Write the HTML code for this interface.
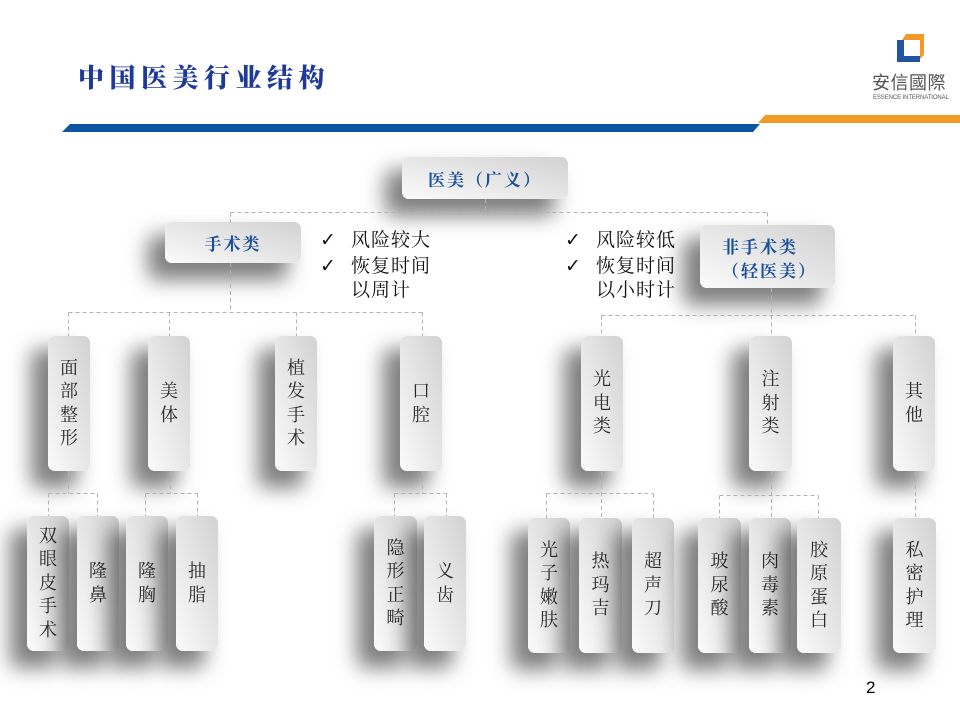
<!DOCTYPE html>
<html><head><meta charset="utf-8">
<style>
html,body{margin:0;padding:0;}
body{width:960px;height:720px;position:relative;overflow:hidden;background:#fff;font-family:"Liberation Serif","Noto Serif CJK SC",serif;}
.b{position:absolute;border-radius:7px;background:linear-gradient(to bottom left,#d2d2d2,#fbfbfb);box-shadow:-15px 15px 20px 2px rgba(0,0,0,.5);}
.v{display:flex;align-items:center;justify-content:center;text-align:center;font-size:18px;line-height:23.5px;color:#2a2a2a;}
.h{display:flex;align-items:center;justify-content:center;font-weight:700;color:#1a4f9c;font-size:17px;letter-spacing:2px;}
.t{position:absolute;font-size:19px;color:#111;line-height:24.5px;letter-spacing:1px;white-space:nowrap;}
.ck{font-family:"DejaVu Sans",sans-serif;font-size:19px;font-weight:700;display:inline-block;width:31px;}
svg{position:absolute;left:0;top:0;}
</style></head><body>

<!-- header -->
<div style="position:absolute;left:78px;top:58px;font-size:26px;font-weight:900;color:#1e3a96;letter-spacing:5.5px;font-family:'Liberation Serif','Noto Serif CJK SC',serif;white-space:nowrap;">中国医美行业结构</div>
<svg width="960" height="140" style="z-index:0">
  <polygon points="70,124 760,124 753,132 62,132" fill="#0f54a3"/>
  <polygon points="765,115 960,115 960,123 758,123" fill="#f39a25"/>
  <!-- logo -->
  <polygon points="897,40 904,40 904,56 920,56 920,62 897,62" fill="#2553a0"/>
  <polygon points="906,34 924,34 924,55 920,59 920,40 902,40" fill="#f39a25"/>
</svg>
<div style="position:absolute;left:872px;top:74px;font-size:18px;line-height:18px;color:#555;font-family:'Liberation Sans','Noto Sans CJK TC',sans-serif;letter-spacing:0.5px;white-space:nowrap;">安信國際</div>
<div style="position:absolute;left:873px;top:95px;font-size:6px;line-height:6px;color:#555;font-family:'Liberation Sans',sans-serif;white-space:nowrap;letter-spacing:-0.1px;">ESSENCE INTERNATIONAL</div>

<!-- top level -->
<div class="b h" style="left:402px;top:157px;width:166px;height:42px;">医美（广义）</div>
<div class="b h" style="left:165px;top:222px;width:136px;height:41px;">手术类</div>

<div class="t" style="left:320px;top:228px;"><span class="ck">✓</span>风险较大<br><span class="ck">✓</span>恢复时间<br><span class="ck"></span>以周计</div>
<div class="t" style="left:565px;top:228px;"><span class="ck">✓</span>风险较低<br><span class="ck">✓</span>恢复时间<br><span class="ck"></span>以小时计</div>

<div class="b" style="left:700px;top:225px;width:135px;height:63px;"><div style="position:absolute;left:22px;top:11px;font-weight:700;color:#1a4f9c;font-size:17px;letter-spacing:2px;line-height:24px;white-space:nowrap;">非手术类<br>（轻医美）</div></div>

<!-- tier 2 -->
<div class="b v" style="left:48px;top:336px;width:42px;height:135px;">面<br>部<br>整<br>形</div>
<div class="b v" style="left:148px;top:336px;width:42px;height:135px;">美<br>体</div>
<div class="b v" style="left:275px;top:336px;width:42px;height:135px;">植<br>发<br>手<br>术</div>
<div class="b v" style="left:400px;top:336px;width:42px;height:135px;">口<br>腔</div>
<div class="b v" style="left:581px;top:336px;width:42px;height:135px;">光<br>电<br>类</div>
<div class="b v" style="left:749px;top:336px;width:43px;height:135px;">注<br>射<br>类</div>
<div class="b v" style="left:893px;top:336px;width:42px;height:135px;">其<br>他</div>

<!-- tier 3 -->
<div class="b v" style="left:27px;top:516px;width:42px;height:135px;">双<br>眼<br>皮<br>手<br>术</div>
<div class="b v" style="left:77px;top:516px;width:42px;height:135px;">隆<br>鼻</div>
<div class="b v" style="left:126px;top:516px;width:42px;height:135px;">隆<br>胸</div>
<div class="b v" style="left:176px;top:516px;width:42px;height:135px;">抽<br>脂</div>
<div class="b v" style="left:374px;top:516px;width:43px;height:135px;">隐<br>形<br>正<br>畸</div>
<div class="b v" style="left:424px;top:516px;width:42px;height:135px;">义<br>齿</div>

<div class="b v" style="left:528px;top:518px;width:42px;height:135px;">光<br>子<br>嫩<br>肤</div>
<div class="b v" style="left:579px;top:518px;width:43px;height:135px;">热<br>玛<br>吉</div>
<div class="b v" style="left:632px;top:518px;width:42px;height:135px;">超<br>声<br>刀</div>
<div class="b v" style="left:698px;top:518px;width:43px;height:135px;">玻<br>尿<br>酸</div>
<div class="b v" style="left:749px;top:518px;width:42px;height:135px;">肉<br>毒<br>素</div>
<div class="b v" style="left:797px;top:518px;width:44px;height:135px;">胶<br>原<br>蛋<br>白</div>
<div class="b v" style="left:893px;top:518px;width:43px;height:135px;">私<br>密<br>护<br>理</div>

<!-- connectors -->
<svg width="960" height="720" style="z-index:5">
<g stroke="#b3b3b3" stroke-width="1" stroke-dasharray="4 3" fill="none">
  <path d="M485.5 199V212.5M230.5 212.5H767.5M230.5 212.5V222M767.5 212.5V225"/>
  <path d="M230.5 263V312.5M68.5 312.5H422.5M68.5 312.5V336M169.5 312.5V336M296.5 312.5V336M422.5 312.5V336"/>
  <path d="M771.5 288V315.5M601.5 315.5H915.5M601.5 315.5V336M771.5 315.5V336M915.5 315.5V336"/>
  <path d="M68.5 471V493.5M48.5 493.5H97.5M48.5 493.5V516M97.5 493.5V516"/>
  <path d="M170.5 471V493.5M145.5 493.5H197.5M145.5 493.5V516M197.5 493.5V516"/>
  <path d="M422.5 471V493.5M394.5 493.5H446.5M394.5 493.5V516M446.5 493.5V516"/>
  <path d="M601.5 471V518M546.5 493.5H653.5M546.5 493.5V518M653.5 493.5V518"/>
  <path d="M771.5 471V518M719.5 495.5H818.5M719.5 495.5V518M818.5 495.5V518"/>
  <path d="M915.5 471V518"/>
</g>
</svg>

<div style="position:absolute;left:866px;top:678px;font-size:17px;font-family:'Liberation Sans',sans-serif;color:#000;">2</div>
</body></html>
